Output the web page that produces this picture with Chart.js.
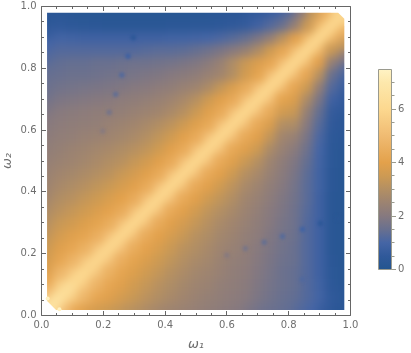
<!DOCTYPE html>
<html><head><meta charset="utf-8">
<script src="https://cdn.jsdelivr.net/npm/chart.js@4/dist/chart.umd.min.js"></script>
<style>html,body{margin:0;background:#fff;width:411px;height:353px;overflow:hidden}canvas{position:absolute;display:block}</style>
</head><body>
<canvas id="main" width="411" height="353" style="left:0;top:0"></canvas>
<canvas id="bar" width="51" height="220" style="left:360px;top:60px"></canvas>
<script>
const omega=[.02,.06,.10,.14,.18,.22,.26,.30,.34,.38,.42,.46,.50,.54,.58,.62,.66,.70,.74,.78,.82,.86,.90,.94,.98];
// field values: row k holds omega1 = omega[0..k] at omega2 = omega[k] (the picture mirrors about the diagonal)
const field=[
[6.9],
[6.2,6.4],
[5.0,5.5,6.1],
[4.2,4.8,5.3,6.0],
[3.8,4.2,4.7,5.2,5.6],
[3.6,3.9,4.2,4.6,5.1,5.5],
[3.4,3.65,3.9,4.15,4.5,5.05,5.5],
[3.2,3.4,3.6,3.85,4.1,4.45,5.0,5.5],
[3.0,3.15,3.35,3.55,3.8,4.05,4.4,5.0,5.5],
[2.8,2.95,3.1,3.3,3.5,3.75,4.0,4.4,5.0,5.5],
[2.6,2.75,2.9,3.05,3.25,3.45,3.7,3.95,4.35,5.0,5.5],
[2.5,2.6,2.7,2.85,3.0,3.15,3.4,3.65,3.95,4.35,5.0,5.5],
[2.4,2.45,2.55,2.65,2.8,2.95,3.1,3.35,3.6,3.95,4.35,5.0,5.5],
[2.3,2.35,2.45,2.55,2.65,2.75,2.9,3.05,3.25,3.55,3.95,4.35,5.0,5.5],
[2.2,2.25,2.3,2.4,2.45,2.55,2.65,2.8,3.0,3.25,3.55,3.95,4.35,5.0,5.5],
[2.1,2.15,2.2,2.25,2.3,2.4,2.5,2.6,2.75,2.95,3.2,3.5,3.9,4.3,5.0,5.5],
[2.0,2.05,2.1,2.15,2.2,2.25,2.3,2.4,2.5,2.6,2.8,3.05,3.45,3.9,4.35,5.0,5.5],
[1.8,1.85,1.9,1.95,2.0,2.05,2.15,2.2,2.3,2.4,2.55,2.75,3.05,3.5,3.95,4.35,5.0,5.5],
[1.6,1.65,1.7,1.75,1.8,1.85,1.9,2.0,2.05,2.15,2.25,2.4,2.55,2.85,3.3,3.8,4.4,5.0,5.5],
[1.5,1.5,1.55,1.55,1.6,1.65,1.7,1.75,1.85,1.9,2.0,2.1,2.2,2.4,2.6,3.0,3.6,4.1,4.9,5.5],
[1.4,1.4,1.45,1.45,1.5,1.5,1.55,1.6,1.6,1.65,1.7,1.8,1.9,2.1,2.4,2.9,3.4,3.8,4.2,4.9,5.5],
[1.2,1.2,1.2,1.2,1.2,1.2,1.2,1.2,1.25,1.3,1.3,1.35,1.45,1.6,1.8,2.05,2.35,2.85,3.5,4.2,4.85,5.5],
[1.0,.95,.9,.85,.85,.85,.85,.85,.85,.85,.9,.9,.95,1.0,1.1,1.25,1.45,1.8,2.3,3.1,3.95,4.7,5.5],
[.6,.5,.4,.35,.3,.25,.25,.25,.25,.25,.3,.3,.35,.35,.4,.5,.6,.85,1.2,1.5,2.3,3.4,4.65,5.5],
[.3,.3,.25,.2,.2,.2,.2,.2,.2,.2,.2,.2,.2,.2,.25,.3,.3,.5,.6,.8,1.2,2.0,3.3,4.5,5.7]
];
const ridge=[6.6,6.3,6.0,5.9,5.9,5.9,5.9,5.9,5.9,5.9,5.9,5.9,5.9,5.9,5.9,5.9,5.9,5.9,5.9,5.9,5.9,5.9,5.9,5.9,5.9];
const smudgeX=[.297,.28,.26,.24,.219,.198,.903,.845,.78,.721,.66,.60,.96,.845];
const smudgeY=[.90,.84,.778,.716,.658,.597,.298,.279,.256,.237,.217,.195,.315,.117];
const smudgeV=[.4,.85,1.2,1.4,1.7,2.05,.4,.9,1.25,1.45,1.75,2.05,.25,1.15];
const hotX=[.02,.058];
const hotY=[.055,.02];
const hotV=[7.4,7.4];
const heatMin=.018, heatMax=.98;
const cutLow=.065, cutHigh=1.94;
const xTicksMajor=[0,.2,.4,.6,.8,1];
const barTicksMajor=[0,2,4,6];
const barMax=7.48;
const stopV=[0,.5,1,1.5,2,2.5,3,3.5,4,5,6,7,7.48];
const stopC=['#23558f','#30599a','#4565a5','#69708f','#86797f','#9c8371','#b38f63','#cd9a53','#e3a14b','#f0bb72','#fcd88f','#fde8ac','#fff3c4'];

const hex=h=>[1,3,5].map(i=>parseInt(h.substr(i,2),16));
function colorOf(v){
  let i=0; while(i<stopV.length-2&&v>stopV[i+1])i++;
  const t=Math.min(1,Math.max(0,(v-stopV[i])/(stopV[i+1]-stopV[i])));
  const a=hex(stopC[i]),b=hex(stopC[i+1]);
  return `rgb(${a.map((c,k)=>Math.round(c+(b[k]-c)*t)).join(',')})`;
}
const edgeCells=[],innerCells=[];
const n=omega.length;
for(let j=0;j<n;j++)for(let i=0;i<n;i++){
  const v=i<=j?field[j][i]:field[i][j];
  const cell={x:omega[i],y:omega[j],v};
  ((i===0||j===0||i===n-1||j===n-1)?edgeCells:innerCells).push(cell);
}
const cells=edgeCells.concat(innerCells);
const zip=(xs,ys,vs)=>xs.map((x,i)=>({x,y:ys[i],v:vs[i]}));
const INK='#666666';
const TXT='#6e6e6e';
const FONT='"DejaVu Sans"';
const RIDGE=1;
const noOverhang=s=>{s.paddingTop=0;s.paddingBottom=0;s.paddingLeft=0;s.paddingRight=0;};

const heatPlugin={
  id:'heat',
  beforeDatasetDraw(chart,args){
    if(args.index>1)chart.ctx.filter=args.index===2?'blur(1.6px)':'blur(.7px)';
  },
  afterDatasetDraw(chart,args){
    const ctx=chart.ctx;
    ctx.filter='none';
    if(args.index!==RIDGE)return;
    const sx=chart.scales.x,sy=chart.scales.y;
    const px=v=>sx.getPixelForValue(v),py=v=>sy.getPixelForValue(v);
    const outline=()=>{
      ctx.moveTo(px(heatMin),py(cutLow-heatMin));
      ctx.lineTo(px(heatMin),py(heatMax));
      ctx.lineTo(px(cutHigh-heatMax),py(heatMax));
      ctx.lineTo(px(heatMax),py(cutHigh-heatMax));
      ctx.lineTo(px(heatMax),py(heatMin));
      ctx.lineTo(px(cutLow-heatMin),py(heatMin));
      ctx.closePath();
    };
    ctx.save();
    ctx.beginPath();outline();ctx.clip();
    ctx.filter='blur(4.5px)';
    ctx.drawImage(ctx.canvas,0,0);
    ctx.restore();
    ctx.save();
    ctx.beginPath();ctx.rect(0,0,chart.width,chart.height);outline();
    ctx.fillStyle='#fff';ctx.fill('evenodd');
    ctx.restore();
  },
  afterDraw(chart){
    const ctx=chart.ctx,a=chart.chartArea;
    const sx=chart.scales.x,sy=chart.scales.y;
    ctx.save();ctx.strokeStyle=INK;ctx.lineWidth=1;ctx.beginPath();
    ctx.rect(a.left,a.top,a.right-a.left,a.bottom-a.top);
    sx.ticks.forEach(t=>{
      const p=Math.round(sx.getPixelForValue(t.value)-.5)+.5;
      const l=xTicksMajor.some(m=>Math.abs(m-t.value)<1e-6)?4.5:2.5;
      ctx.moveTo(p,a.top);ctx.lineTo(p,a.top+l);
      ctx.moveTo(p,a.bottom);ctx.lineTo(p,a.bottom-l);
    });
    sy.ticks.forEach(t=>{
      const p=Math.round(sy.getPixelForValue(t.value)-.5)+.5;
      const l=xTicksMajor.some(m=>Math.abs(m-t.value)<1e-6)?4.5:2.5;
      ctx.moveTo(a.left,p);ctx.lineTo(a.left+l,p);
      ctx.moveTo(a.right,p);ctx.lineTo(a.right-l,p);
    });
    ctx.stroke();ctx.restore();
  }
};
const axis=(titleText,pad,extra)=>Object.assign({
  type:'linear',min:0,max:1,
  grid:{display:false,drawTicks:false,z:1},border:{display:false,z:1},
  ticks:{stepSize:.05,autoSkip:false,maxRotation:0,z:1,padding:pad,color:TXT,font:{family:FONT,size:10},
    callback:v=>xTicksMajor.some(m=>Math.abs(m-v)<1e-6)?v.toFixed(1):''},
  title:{display:true,text:titleText,color:TXT,font:{family:FONT,size:13,style:'italic'},padding:{top:0,bottom:1}}
},extra);
new Chart(document.getElementById('main'),{
  type:'scatter',
  plugins:[heatPlugin],
  data:{datasets:[
    {label:'field',data:cells,order:4,clip:30,pointStyle:'rect',showLine:false,
     pointRadius:c=>{const r=c.raw;return (r&&(r.x===omega[0]||r.y===omega[0]||r.x===omega[n-1]||r.y===omega[n-1]))?19:9.4;},
     pointBorderWidth:0,pointBackgroundColor:c=>colorOf(c.raw?c.raw.v:0)},
    {label:'ridge',data:zip(omega,omega,ridge),order:3,showLine:true,pointRadius:0,borderWidth:14,borderCapStyle:'butt',
     borderColor:colorOf(ridge[6]),segment:{borderColor:c=>colorOf(ridge[c.p0DataIndex])}},
    {label:'dips',data:zip(smudgeX,smudgeY,smudgeV),order:2,showLine:false,clip:false,pointRadius:2.8,pointBorderWidth:0,
     pointBackgroundColor:c=>colorOf(c.raw?c.raw.v:0)},
    {label:'hot',data:zip(hotX,hotY,hotV),order:1,showLine:false,clip:false,pointRadius:2,pointBorderWidth:0,
     pointBackgroundColor:c=>colorOf(c.raw?c.raw.v:0)}
  ]},
  options:{
    responsive:false,animation:false,events:[],
    layout:{autoPadding:false,padding:{left:0,top:6.5,right:60.5,bottom:0}},
    plugins:{legend:{display:false},tooltip:{enabled:false}},
    scales:{
      x:axis('ω₁',4,{afterFit:s=>{s.height=37.5;noOverhang(s);}}),
      y:axis('ω₂',5,{afterFit:s=>{s.width=41.5;noOverhang(s);}})
    }
  }
});
const barPlugin={
  id:'barframe',
  afterDraw(chart){
    const ctx=chart.ctx,a=chart.chartArea,s=chart.scales.y;
    ctx.save();ctx.strokeStyle='#9a9a8e';ctx.lineWidth=1;ctx.beginPath();
    ctx.rect(a.left,a.top,a.right-a.left,a.bottom-a.top);
    s.ticks.forEach(t=>{
      const p=Math.round(s.getPixelForValue(t.value)-.5)+.5;
      ctx.moveTo(a.right,p);ctx.lineTo(a.right+(barTicksMajor.includes(t.value)?4.5:3),p);
    });
    ctx.stroke();ctx.restore();
  }
};
new Chart(document.getElementById('bar'),{
  type:'bar',
  plugins:[barPlugin],
  data:{labels:['scale'],datasets:[{data:[[0,barMax]],barPercentage:1,categoryPercentage:1,borderWidth:0,
    backgroundColor:c=>{
      const a=c.chart.chartArea; if(!a)return stopC[0];
      const g=c.chart.ctx.createLinearGradient(0,a.bottom,0,a.top);
      stopV.forEach((v,i)=>g.addColorStop(v/barMax,stopC[i]));
      return g;
    }}]},
  options:{
    responsive:false,animation:false,events:[],
    layout:{padding:{left:18.5,top:9.5,bottom:10.5,right:0}},
    plugins:{legend:{display:false},tooltip:{enabled:false}},
    scales:{
      x:{display:false},
      y:{position:'right',min:0,max:barMax,grid:{display:false,drawTicks:false},border:{display:false},
        afterFit:s=>{s.width=19.5;noOverhang(s);},
        ticks:{stepSize:.5,autoSkip:false,includeBounds:false,padding:6.5,color:TXT,font:{family:FONT,size:10},
          callback:v=>barTicksMajor.includes(v)?String(v):''}}
    }
  }
});
</script></body></html>
